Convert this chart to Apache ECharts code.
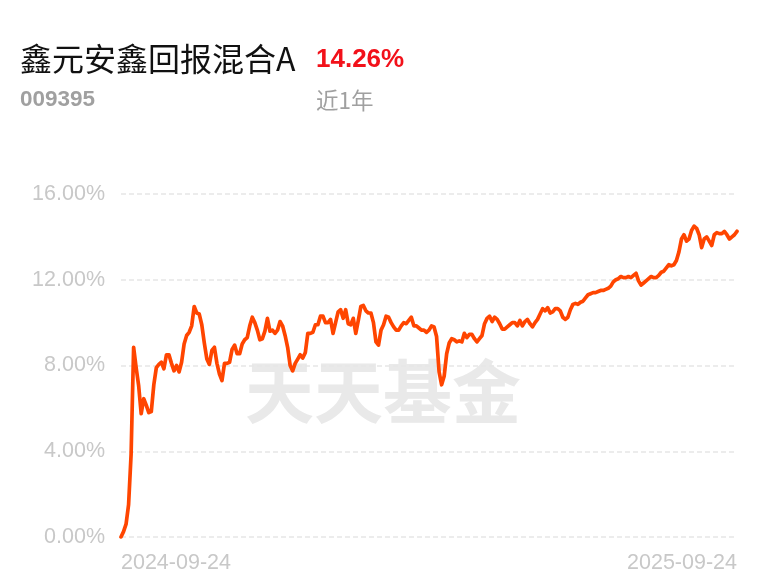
<!DOCTYPE html>
<html>
<head>
<meta charset="utf-8">
<script src="https://cdn.jsdelivr.net/npm/echarts@6/dist/echarts.min.js"></script>
<style>
html,body{margin:0;padding:0;background:#fff;}
#chart{width:768px;height:587px;}
</style>
</head>
<body>
<div id="chart"></div>
<script>
// ---- data ----
const fundName = '鑫元安鑫回报混合A';
const fundCode = '009395';
const periodLabel = '近1年';
const periodReturn = '14.26%';
const watermark = '天天基金';

// trading calendar (used to build category list)
const startDate = '2024-09-24';
const endDate = '2025-09-24';
const closedDays = [
  '2024-10-01','2024-10-02','2024-10-03','2024-10-04','2024-10-07',
  '2025-01-01','2025-01-28','2025-01-29','2025-01-30','2025-01-31',
  '2025-02-03','2025-02-04','2025-04-04','2025-05-01','2025-05-02',
  '2025-05-05','2025-06-02'
];

// y ticks
const yTicks = [0, 4, 8, 12, 16];

// cumulative return (%) per trading day
const returns = [
  0.00, 0.25, 0.60, 1.50, 3.85, 8.85, 7.90, 7.05, 5.75, 6.45,
  6.15, 5.80, 5.85, 7.10, 7.90, 8.05, 8.15, 7.85, 8.50, 8.50,
  8.10, 7.75, 8.00, 7.70, 8.15, 9.00, 9.40, 9.55, 9.85, 10.75,
  10.45, 10.40, 9.90, 9.05, 8.30, 8.05, 8.70, 8.85, 8.10, 7.60,
  7.30, 8.10, 8.10, 8.15, 8.75, 8.95, 8.55, 8.55, 9.00, 9.20,
  9.30, 9.85, 10.25, 10.00, 9.65, 9.20, 9.25, 9.60, 10.20, 9.60,
  9.65, 9.50, 9.65, 10.05, 9.85, 9.40, 8.85, 8.00, 7.75, 8.10,
  8.30, 8.50, 8.35, 8.60, 9.50, 9.50, 9.55, 9.90, 9.90, 10.30,
  10.30, 10.00, 10.00, 10.15, 9.50, 10.00, 10.50, 10.60, 10.20, 10.60,
  9.95, 9.90, 10.20, 9.50, 10.10, 10.75, 10.80, 10.55, 10.45, 10.45,
  10.00, 9.10, 8.95, 9.65, 9.90, 10.30, 10.25, 10.00, 9.80, 9.65,
  9.65, 9.85, 10.00, 9.95, 10.10, 10.25, 9.85, 9.85, 9.75, 9.65,
  9.65, 9.55, 9.65, 9.85, 9.80, 9.35, 7.70, 7.10, 7.50, 8.55,
  9.05, 9.25, 9.20, 9.10, 9.15, 9.10, 9.50, 9.30, 9.45, 9.45,
  9.25, 9.10, 9.25, 9.40, 9.95, 10.20, 10.30, 10.05, 10.25, 10.15,
  9.95, 9.70, 9.70, 9.80, 9.90, 10.00, 10.00, 9.85, 10.10, 9.85,
  10.05, 10.15, 9.95, 9.80, 10.00, 10.15, 10.40, 10.65, 10.55, 10.70,
  10.45, 10.50, 10.65, 10.65, 10.55, 10.25, 10.15, 10.25, 10.60, 10.85,
  10.90, 10.85, 10.95, 11.00, 11.15, 11.30, 11.35, 11.40, 11.40, 11.45,
  11.50, 11.50, 11.55, 11.60, 11.70, 11.90, 12.00, 12.05, 12.15, 12.10,
  12.10, 12.15, 12.10, 12.20, 12.30, 11.95, 11.75, 11.85, 11.95, 12.05,
  12.15, 12.10, 12.10, 12.20, 12.35, 12.40, 12.55, 12.70, 12.65, 12.70,
  12.90, 13.30, 13.90, 14.10, 13.80, 13.90, 14.30, 14.50, 14.40, 14.10,
  13.50, 13.90, 14.00, 13.80, 13.60, 14.10, 14.20, 14.15, 14.15, 14.25,
  14.10, 13.90, 14.00, 14.10, 14.26
];

// ---- build trading-day categories ----
function buildDates(start, end, closed) {
  const out = [];
  const closedSet = new Set(closed);
  const s = start.split('-').map(Number), e = end.split('-').map(Number);
  let t = Date.UTC(s[0], s[1] - 1, s[2]);
  const tEnd = Date.UTC(e[0], e[1] - 1, e[2]);
  while (t <= tEnd) {
    const d = new Date(t);
    const wd = d.getUTCDay();
    const str = d.toISOString().slice(0, 10);
    if (wd !== 0 && wd !== 6 && !closedSet.has(str)) out.push(str);
    t += 86400000;
  }
  return out;
}
const dates = buildDates(startDate, endDate, closedDays);
const lastIdx = dates.length - 1;

const chart = echarts.init(document.getElementById('chart'), null, {renderer: 'canvas'});
const font = '"Liberation Sans", Arial, "Noto Sans CJK SC", sans-serif';
const cjk = '"Noto Sans CJK SC", "Liberation Sans", sans-serif';

chart.setOption({
  backgroundColor: '#ffffff',
  animation: false,
  title: [
    {text: fundName, left: 20, top: 41, padding: 0, textStyle: {fontFamily: cjk, fontSize: 32, fontWeight: 'normal', color: '#111111', lineHeight: 35}},
    {text: periodReturn, left: 316, top: 46, padding: 0, textStyle: {fontFamily: font, fontSize: 26, fontWeight: 'bold', color: '#f2111a', lineHeight: 28}},
    {text: fundCode, left: 20, top: 88, padding: 0, textStyle: {fontFamily: font, fontSize: 22.5, fontWeight: 'bold', color: '#a0a0a0', lineHeight: 24}},
    {text: periodLabel, left: 316, top: 88, padding: 0, textStyle: {fontFamily: cjk, fontSize: 22.5, fontWeight: 'normal', color: '#a0a0a0', lineHeight: 24}}
  ],
  graphic: [{
    type: 'text',
    left: 245, top: 357,
    z: 0,
    style: {text: watermark, font: 'bold 69px "Noto Sans CJK SC", sans-serif', fill: '#e9e9e9'}
  }],
  grid: {left: 121, right: 31, top: 194, bottom: 50, containLabel: false},
  xAxis: {
    type: 'category',
    data: dates,
    boundaryGap: false,
    axisLine: {show: false},
    axisTick: {show: false},
    splitLine: {show: false},
    axisLabel: {
      interval: function (i) { return i === 0 || i === lastIdx; },
      color: '#c8c8c8',
      fontFamily: font,
      fontSize: 21.5,
      margin: 15,
      alignMinLabel: 'left',
      alignMaxLabel: 'right'
    }
  },
  yAxis: {
    type: 'value',
    min: yTicks[0], max: yTicks[yTicks.length - 1], interval: 4,
    axisLine: {show: false},
    axisTick: {show: false},
    axisLabel: {
      color: '#c8c8c8',
      fontFamily: font,
      fontSize: 21.5,
      margin: 16,
      formatter: function (v) { return v.toFixed(2) + '%'; }
    },
    splitLine: {show: true, lineStyle: {color: '#e6e6e6', width: 1.5, type: [5, 3]}}
  },
  series: [{
    type: 'line',
    data: returns,
    showSymbol: false,
    smooth: false,
    z: 5,
    lineStyle: {color: '#ff4500', width: 3.7, join: 'round', cap: 'round'},
    itemStyle: {color: '#ff4500'}
  }]
});
</script>
</body>
</html>
